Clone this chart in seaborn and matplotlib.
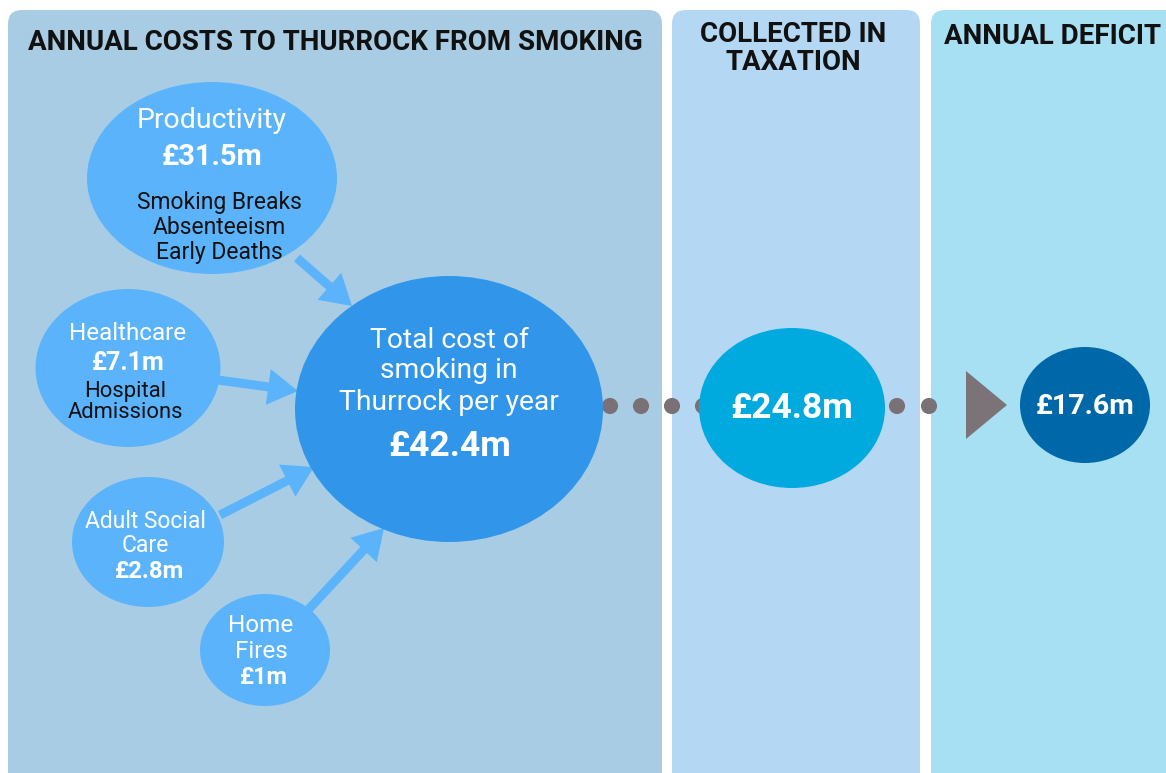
import numpy as np
import pandas as pd
import matplotlib
matplotlib.use("Agg")
import matplotlib.pyplot as plt
import seaborn as sns
from matplotlib.patches import Ellipse, FancyBboxPatch, Polygon, FancyArrow

# ==========================================
# データ
# ==========================================
cost_names = ["Productivity", "Healthcare", "Adult Social\nCare", "Home\nFires"]
cost_values = [31.5, 7.1, 2.8, 1.0]
cost_details = ["Smoking Breaks\nAbsenteeism\nEarly Deaths", "Hospital\nAdmissions", "", ""]
total_cost = 42.4
tax_collected = 24.8
deficit = 17.6
panel_titles = ["ANNUAL COSTS TO THURROCK FROM SMOKING", "COLLECTED IN\nTAXATION", "ANNUAL DEFICIT"]

# ==========================================
# 設定
# ==========================================
sns.set_theme(style="white")
plt.rcParams['font.family'] = ['Roboto', 'DejaVu Sans']

W, H = 1166, 773
fig = plt.figure(figsize=(W / 100, H / 100), dpi=100)
ax = fig.add_axes([0, 0, 1, 1])
ax.set_xlim(0, W)
ax.set_ylim(H, 0)
ax.axis("off")
fig.patch.set_facecolor("white")


def lines(x, ys, text, **kw):
    """複数行テキストを行ごとに配置"""
    for y, s in zip(ys, text.split("\n")):
        ax.text(x, y + 2, s, ha="center", va="center", zorder=3, **kw)


# パネル背景
panels = [(8, 662, "#a8cce3"), (672, 920, "#b4d8f3"), (931, 1180, "#a7dff3")]
for x0, x1, c in panels:
    ax.add_patch(FancyBboxPatch((x0, 10), x1 - x0, 800,
                                boxstyle="round,pad=0,rounding_size=14",
                                fc=c, ec="none", zorder=0))

dark = "#111111"
lines(335, [40], panel_titles[0], fontsize=20, fontweight="bold", color=dark)
lines(793, [32, 61], panel_titles[1], fontsize=20, fontweight="bold", color=dark)
lines(1053, [34], panel_titles[2], fontsize=20, fontweight="bold", color=dark)

light = "#5bb4fb"

# 矢印
arrows = [((297, 258), (352, 306)), ((218, 380), (298, 391)),
          ((220, 515), (314, 467)), ((308, 610), (384, 528))]
for (xa, ya), (xb, yb) in arrows:
    ax.add_patch(FancyArrow(xa, ya, xb - xa, yb - ya, width=9, head_width=36,
                            head_length=30, length_includes_head=True,
                            fc=light, ec="none", zorder=1))

# コスト内訳の円
bubbles = [((212, 178), 250, 192), ((128, 368), 185, 158),
           ((148, 542), 152, 130), ((265, 650), 130, 112)]
for (cx, cy), w, h in bubbles:
    ax.add_patch(Ellipse((cx, cy), w, h, fc=light, ec="none", zorder=2))

# Productivity
lines(212, [119], cost_names[0], fontsize=20.5, color="white")
lines(212, [155], f"£{cost_values[0]}m", fontsize=21, fontweight="bold", color="white")
lines(219, [200, 225, 250], cost_details[0], fontsize=16.5, color=dark)
# Healthcare
lines(128, [332], cost_names[1], fontsize=17.5, color="white")
lines(128, [361], f"£{cost_values[1]}m", fontsize=18, fontweight="bold", color="white")
lines(125, [389, 411], cost_details[1], fontsize=15.8, color=dark)
# Adult Social Care
lines(145, [519, 543], cost_names[2], fontsize=16.5, color="white")
lines(150, [569], f"£{cost_values[2]}m", fontsize=17.2, fontweight="bold", color="white")
# Home Fires
lines(261, [624, 650], cost_names[3], fontsize=17.5, color="white")
lines(264, [676], f"£{cost_values[3]:.0f}m", fontsize=17, fontweight="bold", color="white")

# 合計
ax.add_patch(Ellipse((449, 409), 308, 266, fc="#3196e9", ec="none", zorder=2))
lines(449, [338, 369, 401], "Total cost of\nsmoking in\nThurrock per year",
      fontsize=20.3, color="white")
lines(450, [445], f"£{total_cost}m", fontsize=25.5, fontweight="bold", color="white")

# 点線の点
dots = pd.DataFrame({"x": [610, 641, 672, 703, 897, 929], "y": [406] * 6})
sns.scatterplot(data=dots, x="x", y="y", ax=ax, s=135, color="#7a7177",
                edgecolor="none", zorder=1.5, legend=False)

# 税収
ax.add_patch(Ellipse((792, 408), 186, 160, fc="#00aadf", ec="none", zorder=2))
lines(792, [406], f"£{tax_collected}m", fontsize=25.5, fontweight="bold", color="white")

# 三角形
ax.add_patch(Polygon([(966, 371), (966, 439), (1007, 405)], closed=True,
                     fc="#7c7378", ec="none", zorder=2))

# 赤字
ax.add_patch(Ellipse((1085, 405), 130, 116, fc="#0068a9", ec="none", zorder=2))
lines(1085, [405], f"£{deficit}m", fontsize=20.5, fontweight="bold", color="white")

fig.savefig("out.png", dpi=100)
